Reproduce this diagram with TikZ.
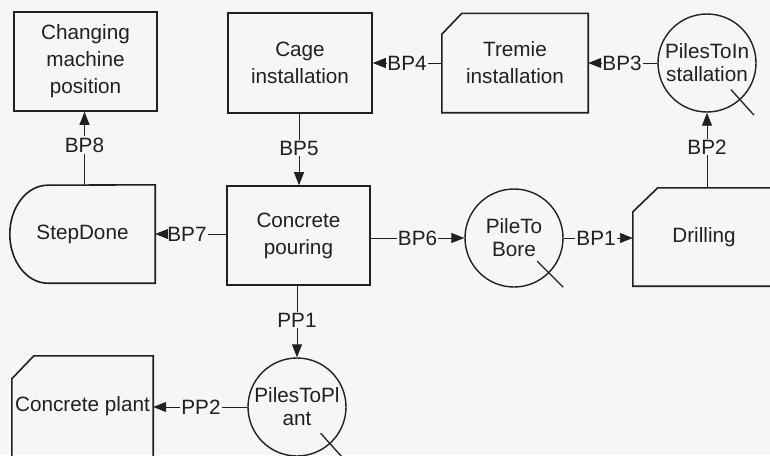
\documentclass[tikz,border=0pt]{standalone}
\usepackage{fontspec}
\setmainfont{Liberation Sans}
\usetikzlibrary{arrows.meta,calc}
\definecolor{ink}{RGB}{32,32,32}
\definecolor{bgc}{RGB}{246,246,244}
\begin{document}
\begin{tikzpicture}[x=1pt,y=-1pt,
  every node/.style={font=\fontsize{20.7}{27}\selectfont, text=ink},
  box/.style={rectangle, draw=ink, line width=1.6pt, align=center, inner sep=0pt},
  shapebox/.style={rectangle, align=center, inner sep=0pt},
  outline/.style={draw=ink, line width=1.6pt, line join=miter},
  place/.style={circle, draw=ink, line width=1.4pt, minimum size=98pt, inner sep=0pt, align=center, font=\fontsize{20.7}{23}\selectfont},
  lbl/.style={inner sep=1pt},
  conn/.style={draw=ink, line width=0.9pt},
  arr/.style={conn, -{Triangle[length=13pt,width=10pt]}},
  slash/.style={draw=ink, line width=1.3pt}
]
\useasboundingbox (0,0) rectangle (770,455);
\fill[bgc] (0,0) rectangle (770,455);
\clip (0,0) rectangle (770,455);

% nodes
\node[box, minimum width=143pt, minimum height=99pt] (cmp) at (85.5,61.5) {Changing\\machine\\position};
\node[box, minimum width=144pt, minimum height=100pt] (cage) at (300,63) {Cage\\installation};
\node[shapebox, minimum width=146pt, minimum height=99pt] (tremie) at (515,63) {Tremie\\installation};
\node[place] (pti) at (707,63) {PilesToIn\\stallation};
\node[shapebox, minimum width=142pt, minimum height=98pt] (drill) at (704,237) {Drilling};
\node[place] (ptb) at (514,238) {PileTo\\Bore};
\node[box, minimum width=143pt, minimum height=99pt] (pour) at (298.5,235.5) {Concrete\\pouring};
\node[shapebox, minimum width=145pt, minimum height=98pt] (sd) at (82.5,234) {StepDone};
\node[place] (ptp) at (297,407) {PilesToPl\\ant};
\node[shapebox, minimum width=141pt, minimum height=101pt] (plant) at (82.5,406.5) {Concrete plant};

% outlines of special shapes
\draw[outline] (tremie.north east) -- (tremie.south east) -- (tremie.south west)
  -- ([yshift=-21pt]tremie.north west) -- ([xshift=20pt]tremie.north west) -- cycle;
\draw[outline] (drill.north east) -- (drill.south east) -- (drill.south west)
  -- ([yshift=-24pt]drill.north west) -- ([xshift=25pt]drill.north west) -- cycle;
\draw[outline] (plant.north east) -- (plant.south east) -- (plant.south west)
  -- ([yshift=-23pt]plant.north west) -- ([xshift=22pt]plant.north west) -- cycle;
\draw[outline] (sd.north east) -- (sd.south east) -- ([xshift=38pt]sd.south west)
  arc[start angle=270, end angle=90, x radius=38pt, y radius=49pt] -- cycle;

% slashes on circles
\draw[slash] ($(pti.center)!0.72!(pti.-48)$) -- ($(pti.center)!1.41!(pti.-48)$);
\draw[slash] ($(ptb.center)!0.66!(ptb.-45)$) -- ($(ptb.center)!1.40!(ptb.-45)$);
\draw[slash] ($(ptp.center)!0.71!(ptp.-48)$) -- ($(ptp.center)!1.45!(ptp.-48)$);

% labels
\node[lbl] (bp4) at (407,63) {BP4};
\node[lbl] (bp3) at (622,63) {BP3};
\node[lbl] (bp2) at (707,147) {BP2};
\node[lbl] (bp5) at (299,148) {BP5};
\node[lbl] (bp8) at (84.5,145) {BP8};
\node[lbl] (bp7) at (187,234) {BP7};
\node[lbl] (bp6) at (417.5,238) {BP6};
\node[lbl] (bp1) at (596,238) {BP1};
\node[lbl] (pp1) at (297,320) {PP1};
\node[lbl] (pp2) at (201,407) {PP2};

% connectors
\draw[conn] (tremie.west |- bp4) -- (bp4.east);
\draw[arr] (bp4.west) -- (cage.east |- bp4);
\draw[conn] (pti.west) -- (bp3.east);
\draw[arr] (bp3.west) -- (tremie.east |- bp3);
\draw[conn] (drill.north -| bp2) -- (bp2.south);
\draw[arr] (bp2.north) -- (pti.south);
\draw[conn] (cage.south -| bp5) -- (bp5.north);
\draw[arr] (bp5.south) -- (pour.north -| bp5);
\draw[conn] (pour.west |- bp7) -- (bp7.east);
\draw[arr] (bp7.west) -- (sd.east |- bp7);
\draw[conn] (sd.north -| bp8) -- (bp8.south);
\draw[arr] (bp8.north) -- (cmp.south -| bp8);
\draw[conn] (pour.east |- bp6) -- (bp6.west);
\draw[arr] (bp6.east) -- (ptb.west);
\draw[conn] (ptb.east) -- (bp1.west);
\draw[arr] (bp1.east) -- (drill.west |- bp1);
\draw[conn] (pour.south -| pp1) -- (pp1.north);
\draw[arr] (pp1.south) -- (ptp.north);
\draw[conn] (ptp.west) -- (pp2.east);
\draw[arr] (pp2.west) -- (plant.east |- pp2);
\end{tikzpicture}
\end{document}
